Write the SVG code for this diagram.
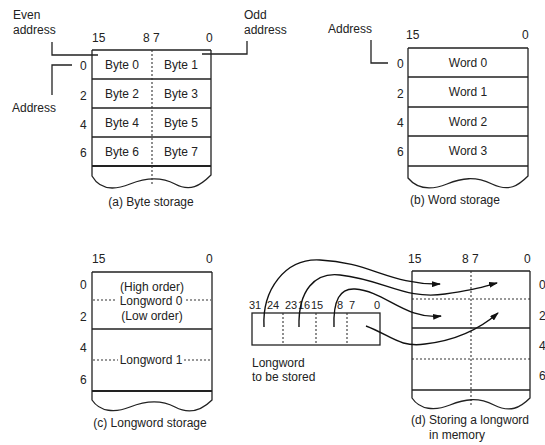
<svg xmlns="http://www.w3.org/2000/svg" width="545" height="445" viewBox="0 0 545 445">
<defs>
<style>
text{font-family:"Liberation Sans",Arial,sans-serif;font-size:12px;fill:#222}
.m{text-anchor:middle}
.s{font-size:11px}
.ln{fill:none;stroke:#222;stroke-width:1.3}
.th{fill:none;stroke:#222;stroke-width:1.8}
.dt{fill:none;stroke:#333;stroke-width:1.1;stroke-dasharray:2,2}
.cv{fill:none;stroke:#111;stroke-width:1.4}
</style>
<marker id="ah" viewBox="0 0 9 6" markerWidth="9" markerHeight="6" refX="8" refY="3" orient="auto" markerUnits="userSpaceOnUse">
<path d="M0,0 L9,3 L0,6 z" fill="#111"/>
</marker>
</defs>
<rect width="545" height="445" fill="#fff"/>

<g id="panel-a">
<text x="13" y="19">Even</text>
<text x="13" y="34">address</text>
<text x="244" y="19">Odd</text>
<text x="244" y="34">address</text>
<text x="92" y="42">15</text>
<text x="143" y="42">8 7</text>
<text x="206" y="42">0</text>
<path class="ln" d="M52,42 V55 H98"/>
<path class="ln" d="M202,54 H247 V41"/>
<path class="ln" d="M72,65 H52 V95"/>
<text x="12" y="112">Address</text>
<text x="80" y="70">0</text>
<text x="80" y="100">2</text>
<text x="80" y="129">4</text>
<text x="80" y="157">6</text>
<path class="ln" d="M92,50 H211 M92,79 H211 M92,108 H211 M92,137 H211"/>
<path class="th" d="M92,166 H211"/>
<path class="ln" d="M92,50 V176 C100,190 115,190 130,184 S160,176 175,184 S200,186 211,175 V50"/>
<path class="dt" d="M152,50 V186"/>
<text class="m" x="122" y="69">Byte 0</text>
<text class="m" x="181" y="69">Byte 1</text>
<text class="m" x="122" y="98">Byte 2</text>
<text class="m" x="181" y="98">Byte 3</text>
<text class="m" x="122" y="127">Byte 4</text>
<text class="m" x="181" y="127">Byte 5</text>
<text class="m" x="122" y="156">Byte 6</text>
<text class="m" x="181" y="156">Byte 7</text>
<text class="m" x="151" y="206">(a) Byte storage</text>
</g>

<g id="panel-b">
<text x="328" y="33">Address</text>
<path class="ln" d="M371,40 V63 H388"/>
<text x="406" y="39">15</text>
<text x="522" y="39">0</text>
<text x="397" y="68">0</text>
<text x="397" y="98">2</text>
<text x="397" y="127">4</text>
<text x="397" y="156">6</text>
<path class="ln" d="M408,48 H528 M408,77 H528 M408,107 H528 M408,136 H528 M408,166 H528"/>
<path class="ln" d="M408,48 V178 C418,190 432,190 447,184 S475,176 492,184 S518,186 528,176 V48"/>
<text class="m" x="468" y="67">Word 0</text>
<text class="m" x="468" y="96">Word 1</text>
<text class="m" x="468" y="126">Word 2</text>
<text class="m" x="468" y="155">Word 3</text>
<text class="m" x="455" y="204">(b) Word storage</text>
</g>

<g id="panel-c">
<text x="92" y="263">15</text>
<text x="206" y="263">0</text>
<text x="80" y="289">0</text>
<text x="80" y="321">2</text>
<text x="80" y="352">4</text>
<text x="80" y="384">6</text>
<path class="ln" d="M92,272 H212 M92,329 H212"/>
<path class="th" d="M92,391 H212"/>
<path class="ln" d="M92,272 V400 C100,412 115,413 130,407 S160,399 175,407 S202,410 212,400 V272"/>
<text class="m" x="152" y="291">(High order)</text>
<path class="dt" d="M93,300 H115 M186,300 H211"/>
<text class="m" x="151" y="305">Longword 0</text>
<text class="m" x="152" y="320">(Low order)</text>
<path class="dt" d="M93,360 H118 M184,360 H211"/>
<text class="m" x="151" y="364">Longword 1</text>
<text class="m" x="150" y="427">(c) Longword storage</text>
</g>

<g id="longword">
<text class="s" x="249" y="309">31</text>
<text class="s" x="267" y="309">24</text>
<text class="s" x="285" y="309">23</text>
<text class="s" x="298" y="309">16</text>
<text class="s" x="311" y="309">15</text>
<text class="s" x="337" y="309">8</text>
<text class="s" x="349" y="309">7</text>
<text class="s" x="374" y="309">0</text>
<rect class="ln" x="252" y="313" width="128" height="32"/>
<path class="dt" d="M283,313 V345 M316,313 V345 M347,313 V345"/>
<text x="252" y="367">Longword</text>
<text x="252" y="381">to be stored</text>
</g>

<g id="panel-d">
<text x="408" y="263">15</text>
<text x="462" y="263">8 7</text>
<text x="524" y="263">0</text>
<text x="539" y="289">0</text>
<text x="539" y="320">2</text>
<text x="539" y="350">4</text>
<text x="539" y="380">6</text>
<path class="ln" d="M412,271 H530 M412,328 H530 M412,390 H530"/>
<path class="dt" d="M412,299 H530 M412,359 H530 M471,271 V406"/>
<path class="ln" d="M412,271 V398 C420,410 435,411 450,405 S478,397 494,405 S520,408 530,398 V271"/>
<text class="m" x="470" y="424">(d) Storing a longword</text>
<text class="m" x="457" y="439">in memory</text>
</g>

<g id="connectors">
<path class="cv" marker-end="url(#ah)" d="M264,327 C262,290 285,258 320,260 C370,262 390,285 440,284"/>
<path class="cv" marker-end="url(#ah)" d="M299,327 C298,290 315,272 340,275 C385,280 405,300 445,294 S485,286 497,283"/>
<path class="cv" marker-end="url(#ah)" d="M334,327 C333,300 340,288 355,289 C385,291 405,320 441,316"/>
<path class="cv" marker-end="url(#ah)" d="M366,326 C390,335 400,348 425,344 C460,340 482,327 498,313"/>
</g>
</svg>
